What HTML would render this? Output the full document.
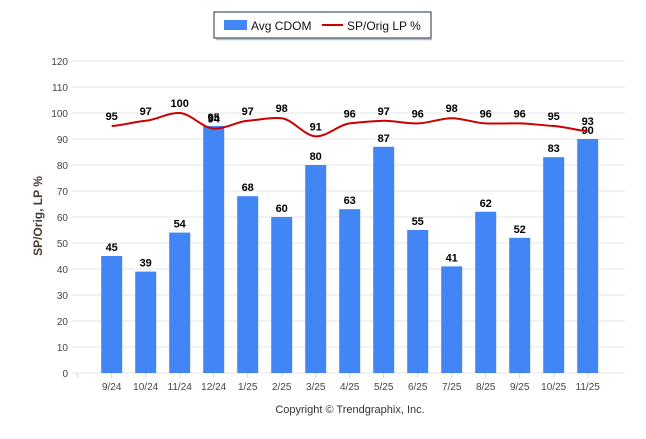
<!DOCTYPE html>
<html><head><meta charset="utf-8"><style>
body{margin:0;background:#fff;font-family:"Liberation Sans",sans-serif}
svg text{font-family:"Liberation Sans",sans-serif}
</style></head><body>
<svg width="646" height="434" id="c">
<rect x="214" y="12" width="217" height="26" fill="#fff" stroke="#1f2f4f" stroke-width="1"/>
<line x1="216" y1="39.5" x2="432" y2="39.5" stroke="#bbb" stroke-width="1.5"/>
<rect x="224" y="20" width="23" height="10" fill="#4285f4"/>
<text x="251" y="30" font-size="12" fill="#111">Avg CDOM</text>
<line x1="322" y1="25" x2="343" y2="25" stroke="#cc0000" stroke-width="2"/>
<text x="347" y="30" font-size="12" fill="#111">SP/Orig LP %</text>
<text transform="translate(42,216) rotate(-90)" text-anchor="middle" font-size="12" font-weight="bold" fill="#4a3a30">SP/Orig, LP %</text>
<text x="350" y="413" text-anchor="middle" font-size="11" fill="#333">Copyright © Trendgraphix, Inc.</text>
<g id="g"></g>
</svg>
<script>
const categories=["9/24","10/24","11/24","12/24","1/25","2/25","3/25","4/25","5/25","6/25","7/25","8/25","9/25","10/25","11/25"];
const cdom=[45,39,54,95,68,60,80,63,87,55,41,62,52,83,90];
const spPct=[95,97,100,94,97,98,91,96,97,96,98,96,96,95,93];
const yTicks=[0,10,20,30,40,50,60,70,80,90,100,110,120];
const NS="http://www.w3.org/2000/svg",g=document.getElementById('g');
const x0=77.7,step=34,left=72,right=625;
const X=i=>x0+step*(i+1), Y=v=>373-v*2.6;
function mk(t,a,txt){const e=document.createElementNS(NS,t);for(const k in a)e.setAttribute(k,a[k]);if(txt!==undefined)e.textContent=txt;g.appendChild(e);return e;}
yTicks.forEach(v=>{
 const l=mk('line',{x1:left,x2:right,y1:Y(v),y2:Y(v),stroke:'#e6e6e6'});
 
 
 const t=mk('text',{x:68,y:Y(v)+4,'text-anchor':'end','font-size':'10',fill:'#444'},v);
 
 
});
for(let i=-1;i<categories.length;i++){mk('line',{x1:X(i),x2:X(i),y1:373,y2:378,stroke:'#ccd6eb'});}
categories.forEach((c,i)=>{
 const b=mk('rect',{x:X(i)-10.5,y:Y(cdom[i]),width:21,height:cdom[i]*2.6,fill:'#4285f4'});
 
 
 const t=mk('text',{x:X(i),y:Y(cdom[i])-5,'text-anchor':'middle','font-size':'11','font-weight':'bold',fill:'#000'},cdom[i]);
 
 
 const xl=mk('text',{x:X(i),y:390,'text-anchor':'middle','font-size':'10',fill:'#444'},c);
 
 
});
let d='';const P=spPct.map((v,i)=>[X(i),Y(v)]);
P.forEach((p,i)=>{if(i==0){d='M'+p[0]+','+p[1];return;}const a=P[i-1],s=step/3;
 const pa=P[i-2]||a,pn=P[i+1]||p;
 const m1=(p[1]-pa[1])/(p[0]-pa[0]||1)*0.5,m2=(pn[1]-a[1])/(pn[0]-a[0]||1)*0.5;
 d+=` C${a[0]+s},${a[1]+m1*s*1.0} ${p[0]-s},${p[1]-m2*s*1.0} ${p[0]},${p[1]}`;});
const ln=mk('path',{d:d,fill:'none',stroke:'#cc0000','stroke-width':2});


spPct.forEach((v,i)=>{const t=mk('text',{x:X(i),y:Y(v)-6,'text-anchor':'middle','font-size':'11','font-weight':'bold',fill:'#000'},v);
 
 });
</script>
</body></html>
